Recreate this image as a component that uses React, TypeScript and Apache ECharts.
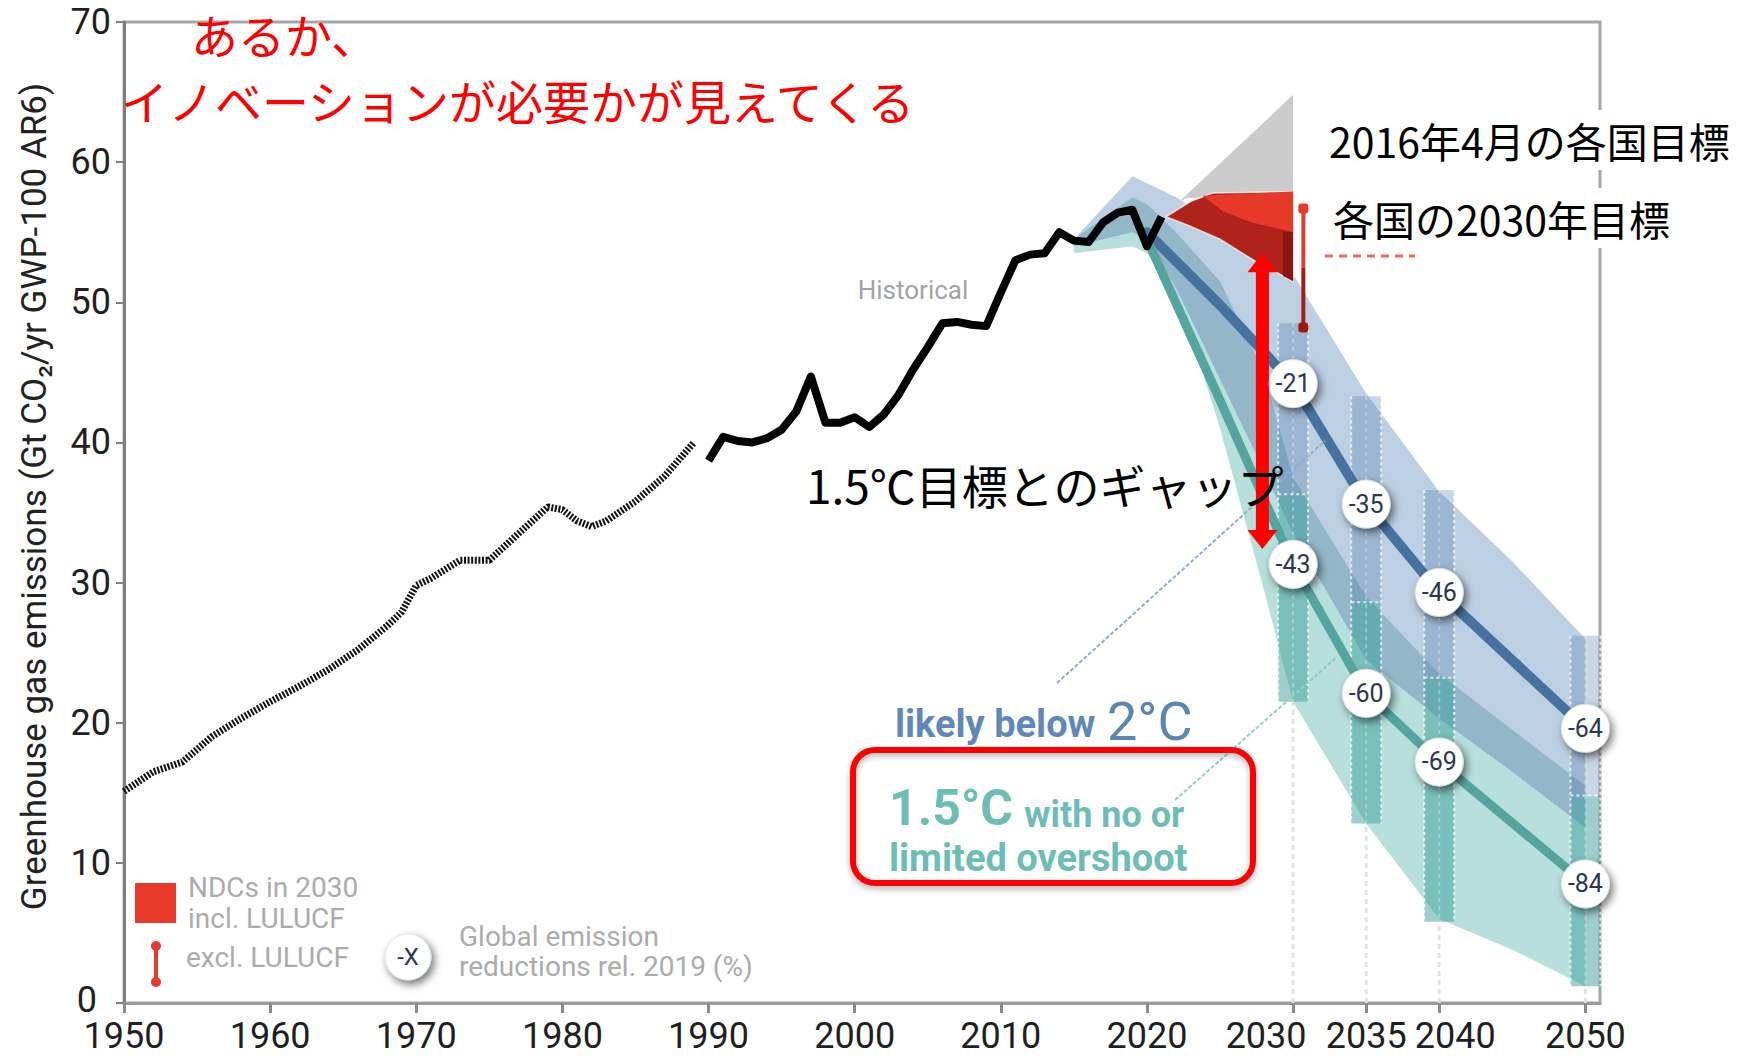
import { useEffect, useRef } from "react";
import * as echarts from "echarts";

// ---------- data ----------
const historicalDotted: [number, number][] = [
  [1950, 15.1], [1952, 16.5], [1954, 17.2], [1956, 19.0], [1958, 20.3], [1960, 21.5],
  [1962, 22.6], [1964, 23.8], [1966, 25.2], [1968, 26.9], [1969, 27.9], [1970, 29.8],
  [1971, 30.3], [1973, 31.6], [1975, 31.6], [1977, 33.5], [1979, 35.4], [1980, 35.2],
  [1981, 34.4], [1982, 34.0], [1983, 34.4], [1985, 35.8], [1987, 37.6], [1989, 40.0],
];
const historicalSolid: [number, number][] = [
  [1990, 38.7], [1991, 40.4], [1992, 40.1], [1993, 40.0], [1994, 40.3], [1995, 40.9],
  [1996, 42.2], [1997, 44.7], [1998, 41.4], [1999, 41.4], [2000, 41.8], [2001, 41.1],
  [2002, 42.0], [2003, 43.4], [2004, 45.2], [2005, 46.8], [2006, 48.5], [2007, 48.6],
  [2008, 48.4], [2009, 48.3], [2010, 50.7], [2011, 53.0], [2012, 53.4], [2013, 53.5],
  [2014, 55.0], [2015, 54.4], [2016, 54.3], [2017, 55.7], [2018, 56.4], [2019, 56.6],
  [2020, 54.0], [2021, 56.1],
];

const bandYears = [2015, 2019, 2020, 2022, 2025, 2028, 2030, 2035, 2040, 2045, 2050];
const blueUpper = [54.5, 59.0, 58.5, 57.5, 55.5, 53.5, 52.0, 43.5, 36.5, 31.5, 26.0];
const blueLower = [54.0, 55.0, 54.5, 50.5, 44.5, 38.0, 33.5, 24.5, 20.3, 16.5, 12.5];
const tealUpper = [54.5, 57.5, 57.0, 55.0, 51.5, 45.0, 37.5, 29.0, 23.5, 19.5, 15.5];
const tealLower = [53.5, 54.0, 53.5, 51.0, 41.0, 29.5, 21.5, 12.8, 6.0, 3.8, 1.2];

const medianYears = [2020, 2025, 2030, 2035, 2040, 2050];
const blueMedian = [55.0, 49.8, 44.2, 35.6, 29.3, 19.6];
const tealMedian = [54.5, 43.0, 31.3, 22.1, 17.2, 8.5];

const boxYears = [2030, 2035, 2040, 2050];
const blueBoxHigh = [48.5, 43.3, 36.6, 26.2];
const blueBoxLow = [36.3, 28.6, 23.2, 14.8];
const tealBoxHigh = [36.3, 28.6, 23.2, 14.8];
const tealBoxLow = [21.5, 12.8, 5.8, 1.2];
const blueLabels = ["-21", "-35", "-46", "-64"];
const tealLabels = ["-43", "-60", "-69", "-84"];

const ndcGrey = [[2021.3, 56.3], [2030, 64.8], [2030, 57.9], [2022.6, 57.4]];
const ndcRed = [[2021.3, 56.1], [2023.0, 57.2], [2024.5, 57.8], [2030, 57.9], [2030, 51.5], [2027.3, 53.0], [2025.0, 54.5], [2022.8, 55.5]];
const ndcRedBright = [[2023.8, 57.6], [2030, 57.9], [2030, 55.0], [2027.2, 55.7], [2025.2, 56.5]];
const ndcRedDark = [[2029.3, 55.05], [2030, 55.0], [2030, 51.5], [2029.3, 51.9]];
const ndcExcl = [2030.7, 48.2, 56.7]; // x, low, high
const gapArrow = [2027.9, 32.4, 53.5]; // x, low, high

const xTickValues = [1950, 1960, 1970, 1980, 1990, 2000, 2010, 2020, 2030, 2035, 2040, 2050];
const yAxisTitle = "Greenhouse gas emissions (Gt CO₂/yr GWP-100 AR6)";

// ---------- styling ----------
const SANS = "Roboto, 'DejaVu Sans', sans-serif";
const CJK = "'Noto Sans CJK JP', 'Noto Sans CJK SC', sans-serif";

const overlapUpper = bandYears.map((_, i) => Math.min(blueUpper[i], tealUpper[i]));
const overlapLower = bandYears.map((_, i) => {
  const lo = Math.max(blueLower[i], tealLower[i]);
  return Math.min(lo, overlapUpper[i]);
});

function txt(text: string, x: number, y: number, size: number, fill: string, opts: any = {}) {
  return {
    type: "text",
    x,
    y,
    z: 100,
    rotation: opts.rotation || 0,
    silent: true,
    style: {
      text,
      fontSize: size,
      fontFamily: opts.family || SANS,
      fontWeight: opts.weight || "normal",
      fill,
      align: opts.align || "left",
      textAlign: opts.align || "left",
      verticalAlign: opts.valign || "middle",
      textVerticalAlign: opts.valign || "middle",
      backgroundColor: opts.bg,
      padding: opts.padding,
      lineHeight: opts.lineHeight,
    },
  };
}

function labelCircle(cx: number, cy: number, r: number, text: string, fs: number) {
  return [
    {
      type: "circle",
      z2: 1,
      shape: { cx, cy, r },
      style: {
        fill: "#ffffff",
        stroke: "rgba(220,225,230,0.9)",
        lineWidth: 1,
        shadowBlur: 9,
        shadowOffsetX: 3,
        shadowOffsetY: 4,
        shadowColor: "rgba(0,0,0,0.55)",
      },
    },
    {
      type: "text",
      z2: 2,
      style: {
        text,
        x: cx,
        y: cy,
        align: "center",
        textAlign: "center",
        verticalAlign: "middle",
        textVerticalAlign: "middle",
        fontSize: fs,
        fontFamily: SANS,
        fill: "#2b3752",
      },
    },
  ];
}

export default function App() {
  const ref = useRef<HTMLDivElement>(null);

  useEffect(() => {
    if (!ref.current) return;
    const chart = echarts.init(ref.current, undefined, { renderer: "svg" });

    const poly = (api: any, pts: number[][]) => pts.map((p) => api.coord(p));
    const bandPts = (api: any, up: number[], lo: number[]) =>
      bandYears
        .map((y, i) => api.coord([y, up[i]]))
        .concat(bandYears.map((y, i) => api.coord([y, lo[i]])).reverse());

    const xl = { fontSize: 36, fontFamily: SANS, color: "#1f1f1f", lineHeight: 30 };
    const yl = { fontSize: 36, fontFamily: SANS, color: "#1f1f1f", lineHeight: 28 };

    const option: any = {
      animation: false,
      backgroundColor: "#ffffff",
      grid: {
        left: 124,
        right: 148,
        top: 22,
        bottom: 57,
        show: true,
        borderColor: "#a6a6a6",
        borderWidth: 3,
        backgroundColor: "transparent",
      },
      xAxis: {
        type: "value",
        min: 1950,
        max: 2051,
        splitLine: { show: false },
        axisLine: { show: true, lineStyle: { color: "#9a9a9a", width: 3 } },
        axisTick: {
          show: true,
          customValues: xTickValues,
          length: 10,
          lineStyle: { color: "#8a8a8a", width: 3 },
        },
        axisLabel: {
          customValues: xTickValues,
          margin: 18,
          ...xl,
          formatter: (v: number) =>
            v === 2030 ? `{l|${v}}` : v === 2040 ? `{r|${v}}` : `{n|${v}}`,
          rich: {
            n: { ...xl },
            l: { ...xl, padding: [0, 54, 0, 0] },
            r: { ...xl, padding: [0, 0, 0, 32] },
          },
        },
      },
      yAxis: {
        type: "value",
        min: 0,
        max: 70,
        interval: 10,
        name: yAxisTitle,
        nameLocation: "middle",
        nameRotate: 90,
        nameGap: 72,
        nameTextStyle: {
          fontSize: 35,
          fontFamily: SANS,
          color: "#222222",
          lineHeight: 36,
          padding: [0, 0, 0, 32],
        },
        splitLine: { show: false },
        axisLine: { show: true, lineStyle: { color: "#7f7f7f", width: 3 } },
        axisTick: { show: true, length: 8, lineStyle: { color: "#7f7f7f", width: 2 } },
        axisLabel: {
          margin: 13,
          ...yl,
          formatter: (v: number) => (v === 0 ? `{z|${v}}` : `{n|${v}}`),
          rich: {
            n: { ...yl },
            z: { ...yl, padding: [0, 14, 6, 0] },
          },
        },
      },
      series: [
        {
          type: "custom",
          name: "bands",
          z: 1,
          data: [[2030, 30]],
          silent: true,
          renderItem: (_p: any, api: any) => ({
            type: "group",
            children: [
              { type: "polygon", shape: { points: bandPts(api, blueUpper, blueLower) }, style: { fill: "#bdd0e3" } },
              { type: "polygon", shape: { points: bandPts(api, tealUpper, tealLower) }, style: { fill: "#b7dfdb" } },
              { type: "polygon", shape: { points: bandPts(api, overlapUpper, overlapLower) }, style: { fill: "#93b7c8" } },
            ],
          }),
        },
        {
          type: "custom",
          name: "ranges",
          z: 1,
          data: boxYears.map((y, i) => [y, blueBoxHigh[i], blueBoxLow[i], tealBoxHigh[i], tealBoxLow[i]]),
          encode: { x: 0, y: [1, 2, 3, 4] },
          silent: true,
          renderItem: (_p: any, api: any) => {
            const x = api.value(0);
            const w = api.size([2.05, 0])[0];
            const b1 = api.coord([x, api.value(1)]);
            const b2 = api.coord([x, api.value(2)]);
            const t1 = api.coord([x, api.value(3)]);
            const t2 = api.coord([x, api.value(4)]);
            const base = api.coord([x, 0]);
            const dash = { stroke: "rgba(255,255,255,0.75)", lineWidth: 2, lineDash: [3, 3] };
            return {
              type: "group",
              children: [
                {
                  type: "line",
                  shape: { x1: base[0], y1: base[1], x2: t2[0], y2: t2[1] },
                  style: { stroke: "#e3e3e3", lineWidth: 3, lineDash: [5, 4] },
                },
                { type: "rect", shape: { x: b1[0] - w / 2, y: b1[1], width: w, height: b2[1] - b1[1] }, style: { fill: "rgba(80,120,170,0.30)" } },
                { type: "rect", shape: { x: t1[0] - w / 2, y: t1[1], width: w, height: t2[1] - t1[1] }, style: { fill: "rgba(60,160,155,0.50)" } },
                { type: "line", shape: { x1: t1[0] - w / 2, y1: t1[1], x2: t1[0] + w / 2, y2: t1[1] }, style: dash },
                { type: "line", shape: { x1: b1[0] - w / 2, y1: b1[1], x2: b1[0] - w / 2, y2: t2[1] }, style: dash },
                { type: "line", shape: { x1: b1[0] + w / 2, y1: b1[1], x2: b1[0] + w / 2, y2: t2[1] }, style: dash },
                { type: "line", shape: { x1: b1[0], y1: b1[1], x2: b1[0], y2: t2[1] }, style: { stroke: "rgba(255,255,255,0.3)", lineWidth: 2, lineDash: [4, 4] } },
              ],
            };
          },
        },
        {
          type: "line",
          name: "likely below 2°C",
          z: 2,
          data: medianYears.map((y, i) => [y, blueMedian[i]]),
          showSymbol: false,
          silent: true,
          lineStyle: { color: "#46729f", width: 10, cap: "round", join: "round" },
        },
        {
          type: "line",
          name: "1.5°C",
          z: 2,
          data: medianYears.map((y, i) => [y, tealMedian[i]]),
          showSymbol: false,
          silent: true,
          lineStyle: { color: "#54a49f", width: 9, cap: "round", join: "round" },
        },
        {
          type: "line",
          name: "Historical (early)",
          z: 3,
          data: historicalDotted,
          showSymbol: false,
          silent: true,
          lineStyle: { color: "#111111", width: 7, type: [2, 1.6] },
        },
        {
          type: "line",
          name: "Historical",
          z: 3,
          data: historicalSolid,
          showSymbol: false,
          silent: true,
          lineStyle: { color: "#000000", width: 8, join: "round" },
        },
        {
          type: "custom",
          name: "NDCs",
          z: 4,
          data: [[2030, 55]],
          silent: true,
          renderItem: (_p: any, api: any) => {
            const top = api.coord([ndcExcl[0], ndcExcl[2]]);
            const mid = api.coord([ndcExcl[0], (ndcExcl[1] + ndcExcl[2]) / 2]);
            const bot = api.coord([ndcExcl[0], ndcExcl[1]]);
            return {
              type: "group",
              children: [
                { type: "polygon", shape: { points: poly(api, ndcGrey) }, style: { fill: "#cbcbcb" } },
                { type: "polygon", shape: { points: poly(api, ndcRed) }, style: { fill: "#b0231a", stroke: "rgba(255,255,255,0.7)", lineWidth: 1.5 } },
                { type: "polygon", shape: { points: poly(api, ndcRedBright) }, style: { fill: "#e6392a" } },
                { type: "polygon", shape: { points: poly(api, ndcRedDark) }, style: { fill: "#8a1711" } },
                { type: "line", shape: { x1: top[0], y1: top[1], x2: mid[0], y2: mid[1] }, style: { stroke: "#e23a2c", lineWidth: 4 } },
                { type: "line", shape: { x1: mid[0], y1: mid[1], x2: bot[0], y2: bot[1] }, style: { stroke: "#a31d16", lineWidth: 4 } },
                { type: "rect", shape: { x: top[0] - 5, y: top[1] - 5, width: 10, height: 10, r: 3 }, style: { fill: "#e8392b" } },
                { type: "rect", shape: { x: bot[0] - 5, y: bot[1] - 5, width: 10, height: 10, r: 3 }, style: { fill: "#9b1a14" } },
              ],
            };
          },
        },
        {
          type: "custom",
          name: "gap",
          z: 5,
          data: [[gapArrow[0], gapArrow[1], gapArrow[2]]],
          encode: { x: 0, y: [1, 2] },
          silent: true,
          renderItem: (_p: any, api: any) => {
            const t = api.coord([api.value(0), api.value(2)]);
            const b = api.coord([api.value(0), api.value(1)]);
            const x = t[0];
            const hw = 15;
            const sw = 6.5;
            const hl = 19;
            const pts = [
              [x, t[1]], [x + hw, t[1] + hl], [x + sw, t[1] + hl], [x + sw, b[1] - hl], [x + hw, b[1] - hl],
              [x, b[1]], [x - hw, b[1] - hl], [x - sw, b[1] - hl], [x - sw, t[1] + hl], [x - hw, t[1] + hl],
            ];
            return { type: "polygon", shape: { points: pts }, style: { fill: "#ff0000" } };
          },
        },
        {
          type: "custom",
          name: "reductions 2°C",
          z: 6,
          data: boxYears.map((y) => [y, blueMedian[medianYears.indexOf(y)]]),
          silent: true,
          renderItem: (p: any, api: any) => {
            const c = api.coord([api.value(0), api.value(1)]);
            return { type: "group", children: labelCircle(c[0], c[1], 24, blueLabels[p.dataIndex], 25) };
          },
        },
        {
          type: "custom",
          name: "reductions 1.5°C",
          z: 6,
          data: boxYears.map((y) => [y, tealMedian[medianYears.indexOf(y)]]),
          silent: true,
          renderItem: (p: any, api: any) => {
            const c = api.coord([api.value(0), api.value(1)]);
            return { type: "group", children: labelCircle(c[0], c[1], 24, tealLabels[p.dataIndex], 25) };
          },
        },
      ],
      graphic: {
        elements: [
          // red annotation at top
          txt("あるか、", 191, 33, 47, "#ff0000", { family: CJK, lineHeight: 52 }),
          txt("イノベーションが必要かが見えてくる", 121, 99, 47, "#ff0000", { family: CJK, lineHeight: 52 }),
          // historical label
          txt("Historical", 913, 290, 26, "#a3a3a3", { align: "center" }),
          // leader lines
          { type: "line", z: 90, silent: true, shape: { x1: 1057, y1: 683, x2: 1325, y2: 441 }, style: { stroke: "#8eaed0", lineWidth: 2, lineDash: [4, 2] } },
          { type: "line", z: 90, silent: true, shape: { x1: 1175, y1: 800, x2: 1337, y2: 657 }, style: { stroke: "#8fd0cb", lineWidth: 2, lineDash: [4, 2] } },
          // pathway labels
          txt("likely below", 895, 724, 38, "#5f88b8", { weight: "bold" }),
          txt("2°C", 1107, 721, 54, "#5a86b6"),
          {
            type: "rect",
            z: 100,
            silent: true,
            shape: { x: 853, y: 750, width: 400, height: 133, r: 22 },
            style: {
              fill: "rgba(0,0,0,0)",
              stroke: "#ff0000",
              lineWidth: 6,
              shadowBlur: 6,
              shadowOffsetY: 3,
              shadowColor: "rgba(0,0,0,0.3)",
            },
          },
          txt("1.5°C", 889, 808, 50, "#6cbdb6", { weight: "bold" }),
          txt("with no or", 1024, 815, 36, "#6cbdb6", { weight: "bold", lineHeight: 38 }),
          txt("limited overshoot", 889, 858, 38, "#6cbdb6", { weight: "bold", lineHeight: 40 }),
          // gap text
          txt("1.5℃目標とのギャップ", 806, 484, 46, "#000000", { family: CJK }),
          // NDC labels with white background
          { type: "line", z: 95, silent: true, shape: { x1: 1325, y1: 256, x2: 1415, y2: 256 }, style: { stroke: "rgba(235,50,40,0.75)", lineWidth: 3, lineDash: [8, 6] } },
          txt("2016年4月の各国目標", 1327, 110, 41, "#000000", {
            family: CJK,
            valign: "top",
            bg: "#ffffff",
            lineHeight: 60,
            padding: [0, 6, 0, 2],
          }),
          txt("各国の2030年目標", 1331, 188, 41, "#000000", {
            family: CJK,
            valign: "top",
            bg: "#ffffff",
            lineHeight: 60,
            padding: [0, 6, 0, 2],
          }),
          // legend
          { type: "rect", z: 100, silent: true, shape: { x: 135, y: 883, width: 41, height: 40 }, style: { fill: "#e8392b" } },
          txt("NDCs in 2030", 188, 887, 28, "#ababab", { lineHeight: 30 }),
          txt("incl. LULUCF", 188, 918, 28, "#ababab", { lineHeight: 30 }),
          { type: "line", z: 100, silent: true, shape: { x1: 156, y1: 946, x2: 156, y2: 982 }, style: { stroke: "#e8392b", lineWidth: 4 } },
          { type: "circle", z: 100, silent: true, shape: { cx: 156, cy: 946, r: 5 }, style: { fill: "#e8392b" } },
          { type: "circle", z: 100, silent: true, shape: { cx: 156, cy: 982, r: 5 }, style: { fill: "#e8392b" } },
          txt("excl. LULUCF", 186, 957, 28, "#ababab", { lineHeight: 30 }),
          {
            type: "group",
            z: 100,
            silent: true,
            children: labelCircle(408, 957, 23, "-X", 24),
          },
          txt("Global emission", 459, 936, 28, "#ababab", { lineHeight: 29 }),
          txt("reductions rel. 2019 (%)", 459, 966, 28, "#ababab", { lineHeight: 29 }),
        ],
      },
    };

    chart.setOption(option);
    return () => chart.dispose();
  }, []);

  return (
    <div
      ref={ref}
      style={{ position: "absolute", left: 0, top: 0, width: 1748, height: 1060 }}
    />
  );
}
